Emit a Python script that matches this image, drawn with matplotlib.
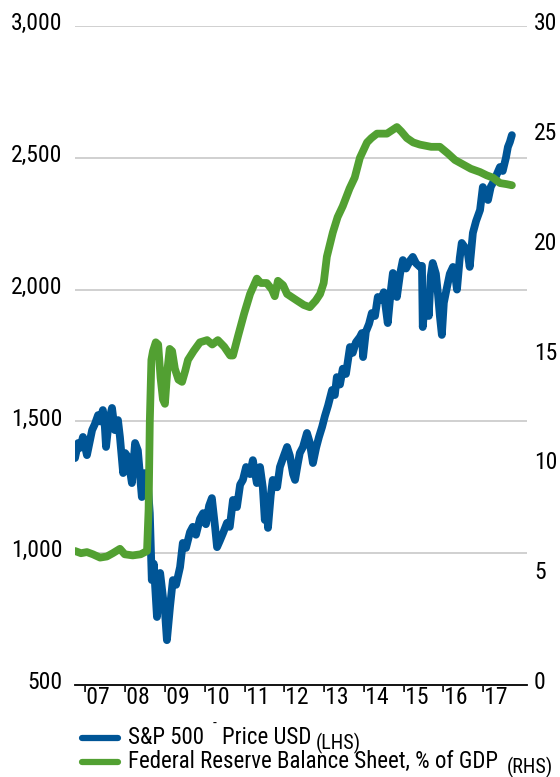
import matplotlib as mpl

mpl.use("Agg")

import matplotlib.pyplot as plt
import matplotlib.transforms as mtransforms
from matplotlib.lines import Line2D

FONT = ["Roboto Condensed", "Liberation Sans", "DejaVu Sans"]
BLUE = "#005596"
GREEN = "#52a032"

# S&P 500 price, USD (left axis)
spx_year = [
    2006.95, 2007.03, 2007.08, 2007.15, 2007.25, 2007.33, 2007.38, 2007.45, 2007.53, 2007.58,
    2007.65, 2007.70, 2007.73, 2007.80, 2007.88, 2007.95, 2008.03, 2008.08, 2008.16, 2008.21,
    2008.28, 2008.38, 2008.46, 2008.53, 2008.63, 2008.71, 2008.78, 2008.83, 2008.86, 2008.88,
    2008.93, 2009.01, 2009.09, 2009.16, 2009.21, 2009.26, 2009.34, 2009.41, 2009.49, 2009.59,
    2009.66, 2009.74, 2009.84, 2009.91, 2009.99, 2010.09, 2010.17, 2010.24, 2010.32, 2010.39,
    2010.47, 2010.52, 2010.59, 2010.67, 2010.77, 2010.84, 2010.92, 2011.02, 2011.10, 2011.17,
    2011.25, 2011.35, 2011.42, 2011.52, 2011.60, 2011.67, 2011.72, 2011.77, 2011.80, 2011.87,
    2011.92, 2012.03, 2012.10, 2012.20, 2012.28, 2012.35, 2012.43, 2012.48, 2012.55, 2012.60,
    2012.68, 2012.78, 2012.85, 2012.93, 2013.01, 2013.08, 2013.16, 2013.23, 2013.31, 2013.41,
    2013.48, 2013.53, 2013.61, 2013.68, 2013.76, 2013.86, 2013.93, 2014.01, 2014.11, 2014.16,
    2014.19, 2014.26, 2014.34, 2014.41, 2014.49, 2014.56, 2014.64, 2014.71, 2014.81, 2014.89,
    2014.94, 2014.99, 2015.04, 2015.12, 2015.19, 2015.27, 2015.37, 2015.44, 2015.52, 2015.62,
    2015.67, 2015.69, 2015.74, 2015.79, 2015.84, 2015.89, 2015.94, 2016.02, 2016.07, 2016.12,
    2016.17, 2016.22, 2016.30, 2016.37, 2016.45, 2016.50, 2016.55, 2016.62, 2016.67, 2016.75,
    2016.82, 2016.87, 2016.95, 2017.03, 2017.13, 2017.20, 2017.28, 2017.33, 2017.40, 2017.45,
    2017.53, 2017.63, 2017.70, 2017.78, 2017.83, 2017.88, 2017.93,
]
spx_value = [
    1361, 1418, 1400, 1441, 1372, 1430, 1467, 1490, 1524, 1500,
    1543, 1480, 1403, 1500, 1551, 1467, 1505, 1440, 1304, 1380,
    1365, 1266, 1418, 1390, 1213, 1304, 1260, 1152, 1000, 898,
    960, 758, 925, 834, 780, 670, 800, 898, 880, 947,
    1039, 1020, 1080, 1100, 1070, 1130, 1152, 1110, 1180, 1209,
    1100, 1023, 1047, 1076, 1115, 1100, 1202, 1175, 1260, 1278,
    1327, 1300, 1353, 1266, 1327, 1250, 1126, 1200, 1096, 1220,
    1278, 1250, 1327, 1370, 1403, 1370, 1300, 1278, 1340, 1380,
    1403, 1456, 1420, 1342, 1400, 1440, 1479, 1520, 1560, 1619,
    1600, 1668, 1640, 1700, 1680, 1782, 1760, 1800, 1820, 1835,
    1744, 1840, 1870, 1911, 1900, 1972, 1960, 1990, 1873, 2000,
    2063, 2040, 1972, 2060, 2112, 2080, 2110, 2124, 2100, 2086,
    2090, 1858, 1950, 1987, 1900, 2050, 2101, 2060, 1987, 1900,
    1828, 1950, 2010, 2060, 2086, 2060, 2000, 2120, 2177, 2160,
    2140, 2086, 2215, 2260, 2302, 2389, 2360, 2340, 2390, 2404,
    2430, 2465, 2450, 2500, 2541, 2560, 2586,
]

# Federal Reserve balance sheet, % of GDP (right axis)
fed_year = [
    2006.95, 2007.10, 2007.25, 2007.40, 2007.58, 2007.75, 2007.90, 2008.08, 2008.20, 2008.40,
    2008.60, 2008.76, 2008.80, 2008.83, 2008.87, 2008.91, 2008.98, 2009.04, 2009.10, 2009.16,
    2009.21, 2009.27, 2009.33, 2009.39, 2009.46, 2009.55, 2009.64, 2009.72, 2009.79, 2009.93,
    2010.09, 2010.27, 2010.40, 2010.54, 2010.70, 2010.85, 2010.92, 2011.05, 2011.20, 2011.35,
    2011.52, 2011.62, 2011.77, 2011.90, 2011.97, 2012.05, 2012.18, 2012.28, 2012.53, 2012.70,
    2012.85, 2013.00, 2013.11, 2013.20, 2013.28, 2013.43, 2013.55, 2013.68, 2013.85, 2013.98,
    2014.11, 2014.29, 2014.40, 2014.54, 2014.79, 2015.04, 2015.15, 2015.29, 2015.45, 2015.62,
    2015.90, 2016.12, 2016.32, 2016.50, 2016.70, 2016.90, 2017.13, 2017.30, 2017.45, 2017.63,
    2017.80, 2017.93,
]
fed_value = [
    6.1, 6.0, 6.05, 5.95, 5.8, 5.85, 6.0, 6.2, 5.95, 5.9,
    5.95, 6.1, 8.0, 12.0, 14.8, 15.2, 15.6, 15.5, 14.0, 13.0,
    12.8, 14.3, 15.3, 15.2, 14.4, 13.9, 13.8, 14.3, 14.8, 15.2,
    15.6, 15.7, 15.5, 15.7, 15.4, 15.0, 15.0, 15.9, 16.9, 17.8,
    18.5, 18.3, 18.3, 18.0, 17.7, 18.4, 18.2, 17.8, 17.5, 17.3,
    17.2, 17.5, 17.8, 18.3, 19.5, 20.6, 21.3, 21.8, 22.6, 23.1,
    24.0, 24.7, 24.9, 25.1, 25.1, 25.4, 25.2, 24.9, 24.7, 24.6,
    24.5, 24.5, 24.2, 23.9, 23.7, 23.5, 23.35, 23.2, 23.1, 22.85,
    22.8, 22.75,
]

year_ticks = [2007.5 + i for i in range(11)]
year_labels = ["'07", "'08", "'09", "'10", "'11", "'12", "'13", "'14", "'15", "'16", "'17"]
left_ticks = [500, 1000, 1500, 2000, 2500, 3000]
right_ticks = [0, 5, 10, 15, 20, 25, 30]

W, H = 560, 777


def px(x, y):
    return x / W, 1 - y / H


fig = plt.figure(figsize=(W / 100, H / 100), dpi=100)
ax = fig.add_axes([75 / W, 1 - 685 / H, 452 / W, 659 / H])
ax2 = ax.twinx()

ax.plot(spx_year, spx_value, color=BLUE, lw=5.6, solid_joinstyle="round", solid_capstyle="round")
ax2.plot(fed_year, fed_value, color=GREEN, lw=5.6, solid_joinstyle="round", solid_capstyle="round")

ax.set_xlim(2006.95, 2018.31)
ax.set_ylim(500, 3000)
ax2.set_ylim(0, 30)

for a in (ax, ax2):
    for s in a.spines.values():
        s.set_visible(False)
ax.spines["bottom"].set_visible(True)
ax.spines["bottom"].set_linewidth(1.3)
ax.spines["bottom"].set_color("black")

for v in left_ticks[1:]:
    ax.axhline(v, color="#c8c8c8", lw=1.2, zorder=0)

ax.set_xticks(year_ticks)
ax.set_xticklabels(year_labels, fontfamily=FONT, fontsize=17)
ax.set_yticks(left_ticks)
ax.set_yticklabels([f"{v:,}" for v in left_ticks], fontfamily=FONT, fontsize=17)
ax2.set_yticks(right_ticks)
ax2.set_yticklabels([str(v) for v in right_ticks], fontfamily=FONT, fontsize=17)
ax.tick_params(axis="x", length=0, pad=1)
ax.tick_params(axis="y", length=0, pad=9)
ax2.tick_params(axis="y", length=0, pad=5)

shift = mtransforms.ScaledTranslation(0, 3.5 / 72, fig.dpi_scale_trans)
for lab in ax.get_yticklabels() + ax2.get_yticklabels():
    lab.set_transform(lab.get_transform() + shift)

# legend
for y, c in ((738, BLUE), (762, GREEN)):
    (x0, y0), (x1, _) = px(82, y), px(118, y)
    fig.add_artist(Line2D([x0, x1], [y0, y0], color=c, lw=4.5, solid_capstyle="round",
                          transform=fig.transFigure))

kw = dict(fontfamily=FONT, va="center", ha="left", color="black")
fig.text(*px(128, 737), "S&P 500", fontsize=16.5, **kw)
fig.text(*px(213, 724), "-", fontsize=11, **kw)
fig.text(*px(222, 737), "Price USD", fontsize=16.5, **kw)
fig.text(*px(316, 743), "(LHS)", fontsize=14.5, **kw)
fig.text(*px(128, 761), "Federal Reserve Balance Sheet, % of GDP", fontsize=16.5, **kw)
fig.text(*px(507, 767), "(RHS)", fontsize=14.5, **kw)

fig.savefig("out.png", dpi=100, facecolor="white")
